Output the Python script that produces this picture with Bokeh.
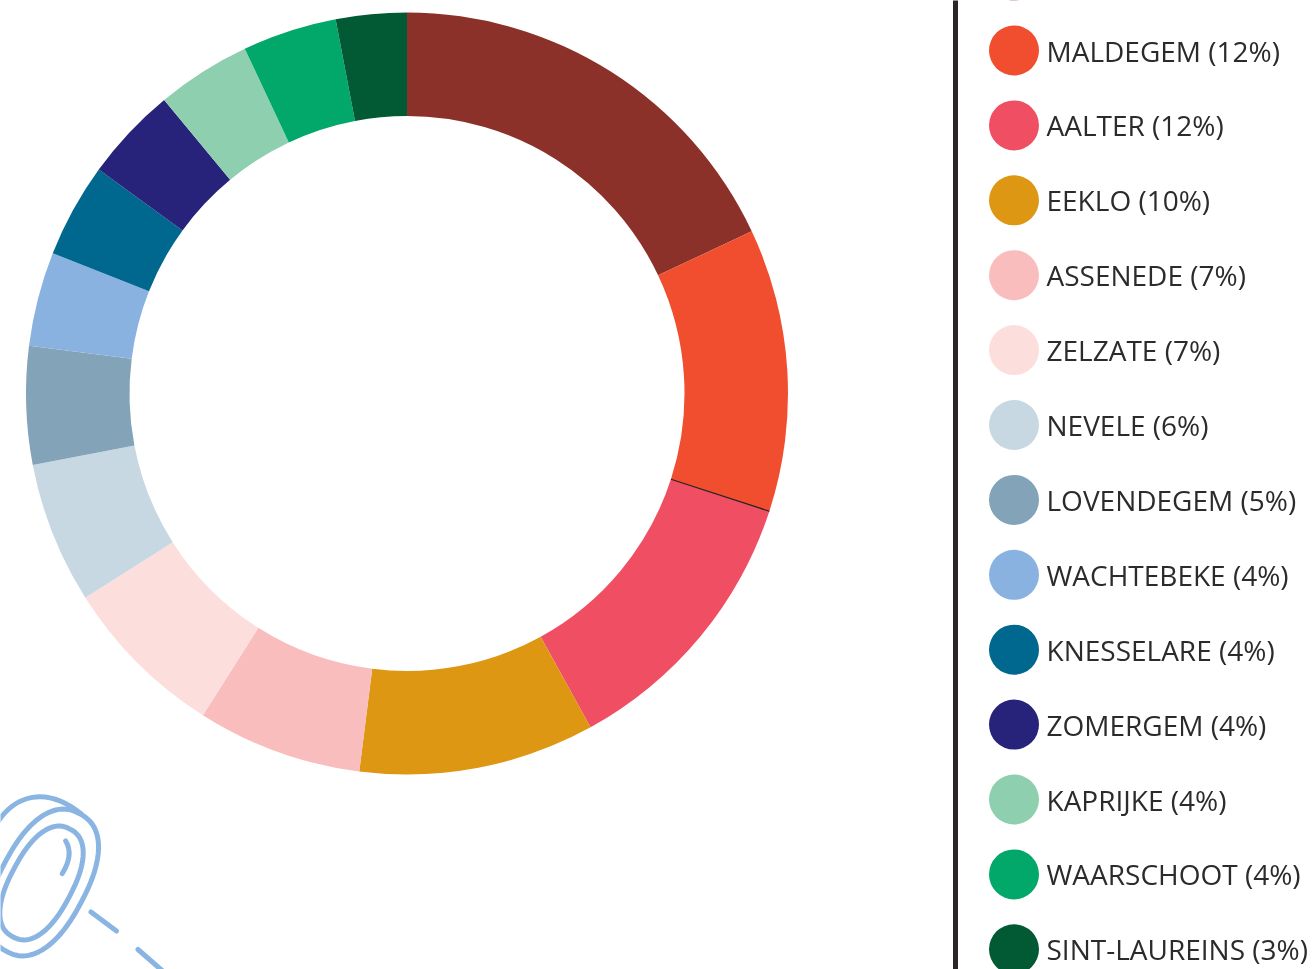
import numpy as np
from bokeh.plotting import figure
from bokeh.models import Range1d
from bokeh.core.properties import value
from bokeh.embed import file_html
from bokeh.resources import INLINE

W, H = 1313, 969

# Shares in percent, clockwise from twelve o'clock
values = [18, 12, 12, 10, 7, 7, 6, 5, 4, 4, 4, 4, 4, 3]
# The first legend row lies above the visible page, only the tip of its dot shows
names = [None, "MALDEGEM", "AALTER", "EEKLO", "ASSENEDE", "ZELZATE", "NEVELE", "LOVENDEGEM",
         "WACHTEBEKE", "KNESSELARE", "ZOMERGEM", "KAPRIJKE", "WAARSCHOOT", "SINT-LAUREINS"]
colors = ["#8C3129", "#F04E2E", "#F04E62", "#DD9712", "#F9BDBE", "#FCDFDC", "#C7D8E3",
          "#82A3B8", "#8AB2E0", "#00688F", "#27237A", "#8ECFB0", "#02A76A", "#025A35"]


def Y(py):
    return H - np.asarray(py, dtype=float)


def blob(px, py, a, b, deg, n=2.35, m=90):
    """Rounded super-elliptic outline, rotated counter-clockwise by deg."""
    t = np.linspace(0, 2 * np.pi, m)
    u = a * np.sign(np.cos(t)) * np.abs(np.cos(t)) ** (2 / n)
    v = b * np.sign(np.sin(t)) * np.abs(np.sin(t)) ** (2 / n)
    th = np.radians(deg)
    return px + u * np.cos(th) - v * np.sin(th), Y(py) + u * np.sin(th) + v * np.cos(th)


p = figure(width=W, height=H, x_range=Range1d(0.5, W + 0.5), y_range=Range1d(-1, H - 1),
           output_backend="svg", toolbar_location=None, min_border=0,
           outline_line_color=None, background_fill_color="white")
p.axis.visible = False
p.grid.visible = False
p.styles = {"position": "fixed", "left": "0px", "top": "0px"}

# Donut
cx, cy, r_out, r_in = 407, 394, 381, 277.5
cum = np.cumsum([0] + values) / 100 * 2 * np.pi
starts = np.pi / 2 - cum[:-1]
ends = np.pi / 2 - cum[1:]
p.annular_wedge(x=[cx] * len(values), y=[Y(cy)] * len(values), inner_radius=r_in, outer_radius=r_out,
                start_angle=starts, end_angle=ends, direction="clock",
                fill_color=colors, line_color=None)

# Thin dark seam between the second and third slices
a = ends[1]
p.segment(x0=[cx + r_in * np.cos(a)], y0=[Y(cy) + r_in * np.sin(a)],
          x1=[cx + r_out * np.cos(a)], y1=[Y(cy) + r_out * np.sin(a)],
          line_color="#222222", line_width=1.2)

# Legend
row_y = [-23.9 + 74.9 * i for i in range(len(values))]
p.scatter(x=[1014] * len(values), y=Y(row_y), size=50, marker="circle",
          fill_color=colors, line_color=None)
labels = [f"{n} ({v}%)" for n, v in zip(names, values) if n]
label_y = [y for y, n in zip(row_y, names) if n]
p.text(x=[1046.5] * len(labels), y=Y(label_y), text=labels, text_font=value("Open Sans"),
       text_font_size="28px", text_color="#2B2B2B", text_baseline="middle", text_align="left")

# Divider
p.segment(x0=[955.5], y0=[Y(-10)], x1=[955.5], y1=[Y(H + 10)], line_color="#2A2627", line_width=5)

# Magnifying glass decoration
blue = "#8AB4E2"
mx, my = blob(41.5, 883.5, 61, 31, 62)
p.line(mx, my, line_color=blue, line_width=5)
mx, my = blob(43, 883, 78, 43, 62)
p.line(mx, my, line_color=blue, line_width=5)
p.bezier(x0=[-2], y0=[Y(822)], cx0=[15], cy0=[Y(797)], cx1=[45], cy1=[Y(785)], x1=[82], y1=[Y(815)],
         line_color=blue, line_width=5)
p.quadratic(x0=[65.7], y0=[Y(841.5)], cx=[74], cy=[Y(855)], x1=[62.3], y1=[Y(874)],
            line_color=blue, line_width=5, line_cap="round")
p.segment(x0=[91, 138], y0=[Y(912.5), Y(950)], x1=[116.5, 162], y1=[Y(931.5), Y(971)],
          line_color=blue, line_width=5, line_cap="round")

open("out.html", "w").write(file_html(p, INLINE))
